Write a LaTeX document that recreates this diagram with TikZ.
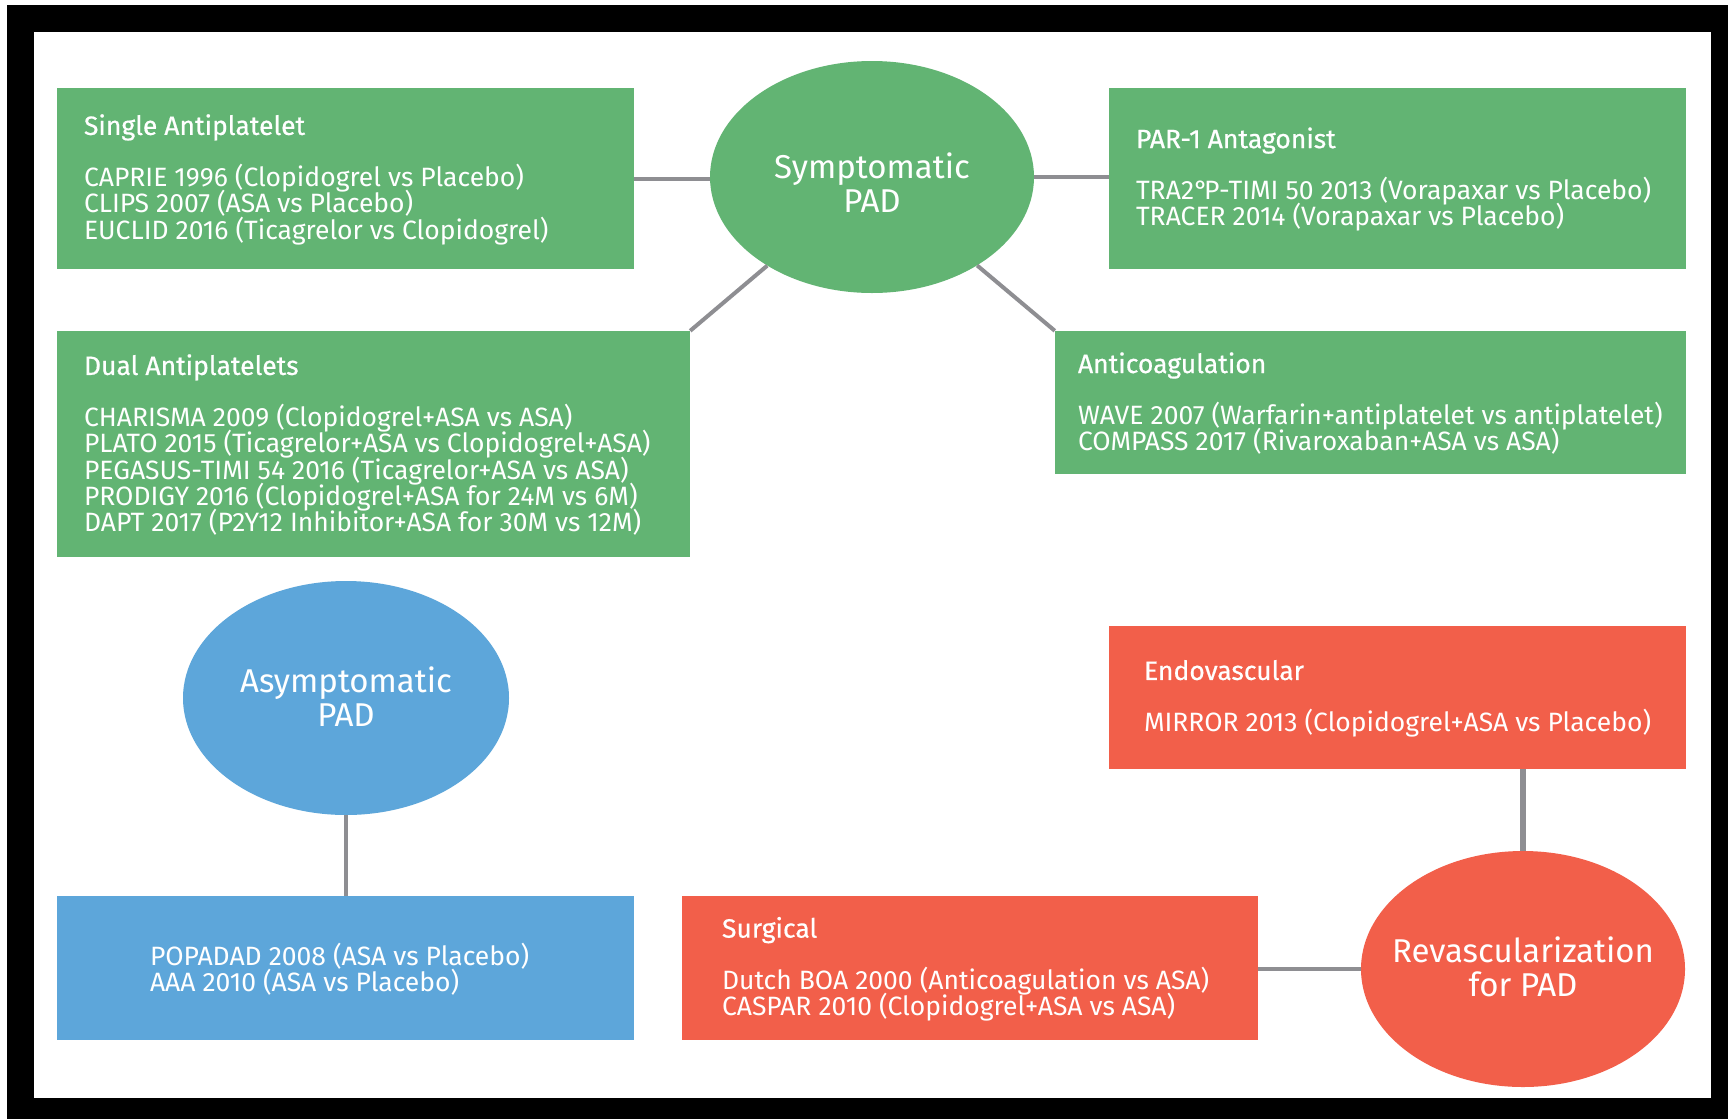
\documentclass[tikz,border=0pt]{standalone}
\usepackage{fontspec}
\setmainfont{Fira Sans}
\newfontfamily\headfont{Fira Sans}[FakeBold=0.6]
\usetikzlibrary{shapes.geometric}

\definecolor{padgreen}{RGB}{98,180,115}
\definecolor{padblue}{RGB}{93,166,218}
\definecolor{padred}{RGB}{242,95,74}
\definecolor{linkgray}{RGB}{142,142,146}

% fixed line pitch regardless of glyph heights
\newcommand\trialfont{\fontsize{26.5}{26.4}\selectfont\lineskiplimit=-20pt\relax}
\newcommand\ovalfont{\fontsize{33}{34}\selectfont\lineskiplimit=-20pt\relax}

\tikzset{
  trialbox/.style={fill=#1, draw=none, inner sep=0pt},
  trialtext/.style={text=white, align=left, anchor=west, inner sep=0pt,
    font=\trialfont},
  padoval/.style={ellipse, fill=#1, draw=none, inner sep=0pt},
  ovaltext/.style={text=white, align=center, font=\ovalfont},
  link/.style={draw=linkgray, line width=4pt},
}

\begin{document}
\begin{tikzpicture}[x=1pt, y=-1pt]
\useasboundingbox (0,0) rectangle (1728,1119);
% frame
\fill[black] (7,5) rectangle (1728,1119);
\fill[white] (34,32) rectangle (1711,1098);

% symptomatic PAD group
\node[padoval=padgreen, minimum width=324pt, minimum height=232pt] (sym) at (872,177) {};
\node[ovaltext] (symtxt) at (872,183) {Symptomatic\\PAD};

\node[trialbox=padgreen, minimum width=577pt, minimum height=181pt] (single) at (345.5,178.5) {};
\node[trialtext] (singletxt) at ([xshift=27pt,yshift=-1pt]single.west)
  {{\headfont Single Antiplatelet}\\[25pt]
   CAPRIE 1996 (Clopidogrel vs Placebo)\\
   CLIPS 2007 (ASA vs Placebo)\\
   EUCLID 2016 (Ticagrelor vs Clopidogrel)};

\node[trialbox=padgreen, minimum width=577pt, minimum height=181pt] (par) at (1397.5,178.5) {};
\node[trialtext] (partxt) at ([xshift=27pt,yshift=-1pt]par.west)
  {{\headfont PAR-1 Antagonist}\\[25pt]
   TRA2°\kern-4pt P-TIMI 50 2013 (Vorapaxar vs Placebo)\\
   TRACER 2014 (Vorapaxar vs Placebo)};

\node[trialbox=padgreen, minimum width=633pt, minimum height=226pt] (dual) at (373.5,444) {};
\node[trialtext] (dualtxt) at ([xshift=27pt,yshift=-1pt]dual.west)
  {{\headfont Dual Antiplatelets}\\[25pt]
   CHARISMA 2009 (Clopidogrel+ASA vs ASA)\\
   PLATO 2015 (Ticagrelor+ASA vs Clopidogrel+ASA)\\
   PEGASUS-TIMI 54 2016 (Ticagrelor+ASA vs ASA)\\
   PRODIGY 2016 (Clopidogrel+ASA for 24M vs 6M)\\
   DAPT 2017 (P2Y12 Inhibitor+ASA for 30M vs 12M)};

\node[trialbox=padgreen, minimum width=631pt, minimum height=143pt] (anti) at (1370.5,402.5) {};
\node[trialtext] (antitxt) at ([xshift=23pt,yshift=-1pt]anti.west)
  {{\headfont Anticoagulation}\\[25pt]
   WAVE 2007 (Warfarin+antiplatelet vs antiplatelet)\\
   COMPASS 2017 (Rivaroxaban+ASA vs ASA)};

% asymptomatic PAD group
\node[padoval=padblue, minimum width=326pt, minimum height=234pt] (asym) at (346,698) {};
\node[ovaltext] (asymtxt) at (346,697) {Asymptomatic\\PAD};

\node[trialbox=padblue, minimum width=577pt, minimum height=144pt] (popadad) at (345.5,968) {};
\node[trialtext] (popadadtxt) at ([xshift=93pt,yshift=-1pt]popadad.west)
  {POPADAD 2008 (ASA vs Placebo)\\
   AAA 2010 (ASA vs Placebo)};

% revascularization group
\node[padoval=padred, minimum width=324pt, minimum height=236pt] (rev) at (1523,969) {};
\node[ovaltext] (revtxt) at (1523,967) {Revascularization\\for PAD};

\node[trialbox=padred, minimum width=577pt, minimum height=143pt] (endo) at (1397.5,697.5) {};
\node[trialtext] (endotxt) at ([xshift=35pt,yshift=-1pt]endo.west)
  {{\headfont Endovascular}\\[25pt]
   MIRROR 2013 (Clopidogrel+ASA vs Placebo)};

\node[trialbox=padred, minimum width=576pt, minimum height=144pt] (surg) at (970,968) {};
\node[trialtext] (surgtxt) at ([xshift=40pt,yshift=-1pt]surg.west)
  {{\headfont Surgical}\\[25pt]
   Dutch BOA 2000 (Anticoagulation vs ASA)\\
   CASPAR 2010 (Clopidogrel+ASA vs ASA)};

% connectors
\draw[link] (single.east) -- (single.east -| sym.west);
\draw[link] (sym.east) -- (sym.east -| par.west);
\draw[link] (sym) -- (dual.north east);
\draw[link] (sym) -- (anti.north west);
\draw[link] (asym) -- (asym |- popadad.north);
\draw[link, line width=6pt] (rev.north) -- (rev.north |- endo.south);
\draw[link] (rev.west) -- (rev.west -| surg.east);
\end{tikzpicture}
\end{document}
